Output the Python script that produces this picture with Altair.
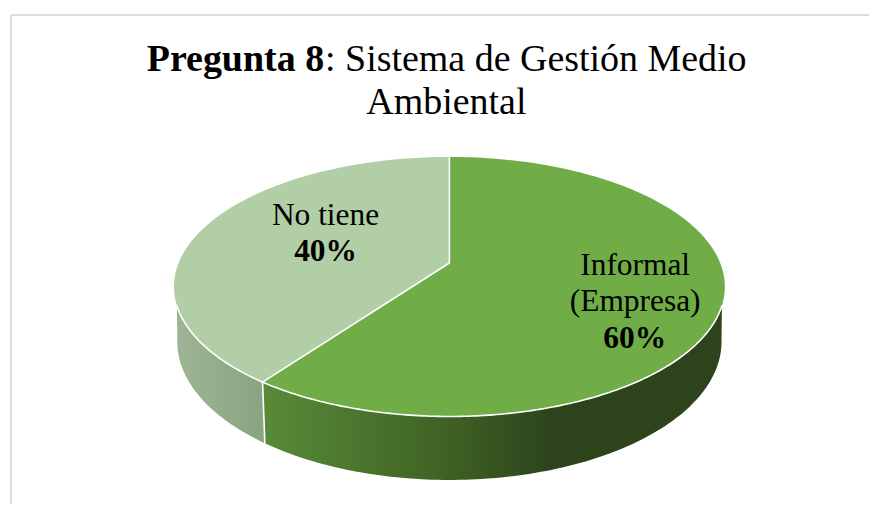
import numpy as np
import pandas as pd
import altair as alt

# ---- chart values
categories = ["Informal (Empresa)", "No tiene"]
shares = [60, 40]
title_bold = "Pregunta 8"
title_line1 = ": Sistema de Gestión Medio"
title_line2 = "Ambiental"

# ---- colours
top_green = "#70ad47"
top_light = "#b1cea6"
frame_grey = "#dcdcdc"

# ---- layout (pixels in the picture; page margin is 8)
M = 8
W, H = 869, 498
CX, CY = 453.5, 263.0
SX, SY, K = 273.3, 126.6, 0.183      # top face with perspective
BX, BY, BCY = 270.0, 134.8, 317.0    # bottom face
WALL_START = np.degrees(np.arccos(-0.32))
SIL_START = np.degrees(np.arccos(-0.183))


def face(deg, sx, sy, cy):
    a = np.radians(np.asarray(deg, dtype=float))
    u, v = np.sin(a), np.cos(a)
    w = 1 + K * v
    return CX + sx * u / w - M, cy - sy * v / w - M


def table(xs, ys):
    return pd.DataFrame({"x": xs, "y": ys, "i": np.arange(len(xs))})


split = 360.0 * shares[0] / sum(shares)

xs_scale = alt.Scale(domain=[0, W], nice=False, zero=False)
ys_scale = alt.Scale(domain=[H, 0], nice=False, zero=False)
X = alt.X("x:Q", scale=xs_scale, axis=None)
Y = alt.Y("y:Q", scale=ys_scale, axis=None)
O = alt.Order("i:Q")


def shape(df, fill):
    return alt.Chart(df).mark_line(
        interpolate="linear-closed", fill=fill, strokeWidth=0, stroke="transparent"
    ).encode(x=X, y=Y, order=O)


def stroke(df, color="white", width=1.6):
    return alt.Chart(df).mark_line(color=color, strokeWidth=width).encode(x=X, y=Y, order=O)


def gradient(stops):
    return alt.Gradient(
        gradient="linear", x1=0, x2=1, y1=0, y2=0,
        stops=[alt.GradientStop(offset=o, color=c) for o, c in stops],
    )


# top slices
a1 = np.linspace(0, split, 160)
tx, ty = face(a1, SX, SY, CY)
cxp, cyp = CX - M, CY - M
green_top = table(np.r_[cxp, tx], np.r_[cyp, ty])
a2 = np.linspace(split, 360, 120)
lx, ly = face(a2, SX, SY, CY)
light_top = table(np.r_[cxp, lx], np.r_[cyp, ly])

# walls
a_g = np.linspace(WALL_START, split, 120)
gx, gy = face(a_g, SX, SY, CY)
b_g = np.linspace(split, SIL_START, 120)
gbx, gby = face(b_g, BX, BY, BCY)
green_wall = table(np.r_[gx, gbx], np.r_[gy, gby])

a_l = np.linspace(split, 360 - WALL_START, 50)
wx, wy = face(a_l, SX, SY, CY)
b_l = np.linspace(360 - SIL_START, split, 60)
wbx, wby = face(b_l, BX, BY, BCY)
light_wall = table(np.r_[wx, wbx], np.r_[wy, wby])

# white edges
a_e = np.linspace(WALL_START, 360 - WALL_START, 200)
ex, ey = face(a_e, SX, SY, CY)
edge = table(ex, ey)
sx0, sy0 = face([split], SX, SY, CY)
tx0, ty0 = face([0], SX, SY, CY)
radial = table([float(tx0[0]), cxp, float(sx0[0])], [float(ty0[0]), cyp, float(sy0[0])])
dbx, dby = face([split], BX, BY, BCY)
divider = table([float(sx0[0]), float(dbx[0])], [float(sy0[0]), float(dby[0])])

green_grad = gradient([(0, "#588b38"), (0.40, "#3f6224"), (0.63, "#2c431c"), (1, "#2c431c")])
light_grad = gradient([(0, "#9db595"), (1, "#8aa381")])

# frame
frame_top = alt.Chart(pd.DataFrame({"p": [0]})).mark_rule(color=frame_grey, strokeWidth=2).encode(
    x=alt.value(3), x2=alt.value(W), y=alt.value(4.7))
frame_left = alt.Chart(pd.DataFrame({"p": [0]})).mark_rule(color=frame_grey, strokeWidth=2).encode(
    x=alt.value(3), y=alt.value(4.7), y2=alt.value(H))


def label(text, x, y, size, align="center", weight="normal"):
    return alt.Chart(pd.DataFrame({"t": [text]})).mark_text(
        font="Liberation Serif", fontSize=size, align=align, baseline="alphabetic",
        fontWeight=weight, color="black",
    ).encode(text="t:N", x=alt.value(x - M), y=alt.value(y - M))


T, L = 38.3, 31.7
texts = [
    label(title_bold, 148, 69, T, "left", "bold"),
    label(title_line1, 328, 69, T, "left"),
    label(title_line2, 450.5, 112.5, T),
    label("No tiene", 328.5, 224.5, L),
    label(f"{shares[1]}%", 328.5, 261.5, L, weight="bold"),
    label("Informal", 641, 275, L),
    label("(Empresa)", 641, 312, L),
    label(f"{shares[0]}%", 640.5, 349, L, weight="bold"),
]

chart = alt.layer(
    frame_top, frame_left,
    shape(light_wall, light_grad), shape(green_wall, green_grad),
    shape(light_top, top_light), shape(green_top, top_green),
    stroke(edge), stroke(radial), stroke(divider),
    *texts,
).properties(width=W, height=H, padding=0, autosize=alt.AutoSizeParams(type="none"),
             background="white").configure_view(stroke=None)

chart.save("out.html", embed_options={"renderer": "svg", "actions": False})
